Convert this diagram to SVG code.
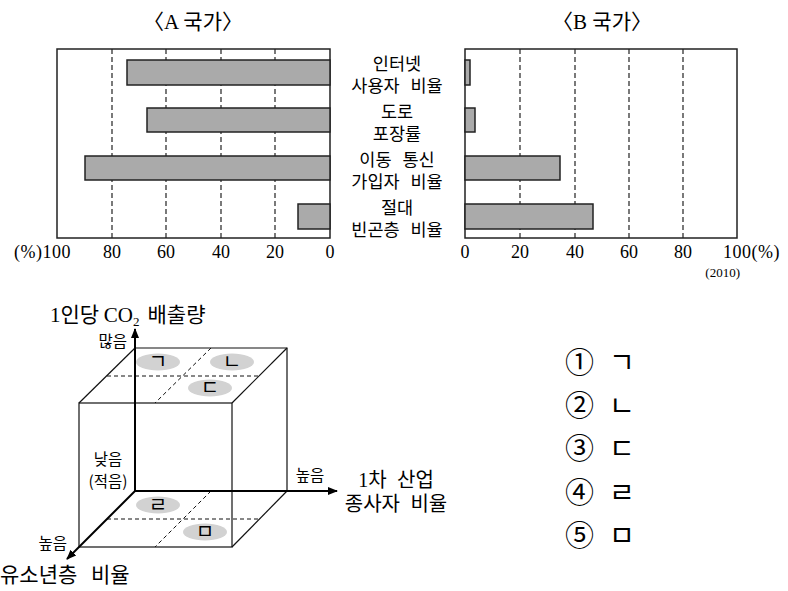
<svg xmlns="http://www.w3.org/2000/svg" width="788" height="591" viewBox="0 0 788 591">
<defs>
<style>
.kr{font-family:"Noto Sans CJK KR",sans-serif;fill:#000}
.num{font-family:"Liberation Serif","Noto Sans CJK KR",serif;fill:#000}
.frame{fill:#fff;stroke:#222;stroke-width:1.5}
.grid{stroke:#222;stroke-width:1.2;stroke-dasharray:5 3;fill:none}
.bar{fill:#aaa;stroke:#222;stroke-width:1.5}
.edge{stroke:#111;stroke-width:1.2;fill:none}
.dash{stroke:#111;stroke-width:1;stroke-dasharray:4 3;fill:none}
.axis{stroke:#000;stroke-width:2;fill:none}
.oval{fill:#d2d2d2}
</style>
<marker id="arr" viewBox="0 0 10 10" refX="9" refY="5" markerWidth="5" markerHeight="5" orient="auto" markerUnits="strokeWidth">
<path d="M0,1 L10,5 L0,9 z" fill="#000"/>
</marker>
</defs>
<rect width="788" height="591" fill="#fff"/>

<!-- Chart A -->
<g id="chartA">
<text class="num" x="193" y="29" font-size="21" text-anchor="middle">〈A <tspan class="kr">국가</tspan>〉</text>
<rect class="frame" x="57" y="49" width="273" height="189"/>
<line class="grid" x1="112" y1="49" x2="112" y2="238"/>
<line class="grid" x1="166" y1="49" x2="166" y2="238"/>
<line class="grid" x1="221" y1="49" x2="221" y2="238"/>
<line class="grid" x1="275" y1="49" x2="275" y2="238"/>
<rect class="bar" x="127" y="60" width="203" height="25"/>
<rect class="bar" x="147" y="108" width="183" height="24"/>
<rect class="bar" x="85" y="156" width="245" height="24"/>
<rect class="bar" x="298" y="204" width="32" height="25"/>
<g class="num" font-size="18" text-anchor="middle">
<text x="71" y="258" text-anchor="end" letter-spacing="0.5">(%)100</text>
<text x="112" y="258">80</text>
<text x="166" y="258">60</text>
<text x="221" y="258">40</text>
<text x="275" y="258">20</text>
<text x="330" y="258">0</text>
</g>
</g>

<!-- Labels between charts -->
<g id="labels" class="kr" font-size="17.5" text-anchor="middle" word-spacing="7">
<text x="397" y="70">인터넷</text>
<text x="397" y="92">사용자 비율</text>
<text x="397" y="118">도로</text>
<text x="397" y="140">포장률</text>
<text x="397" y="166">이동 통신</text>
<text x="397" y="188">가입자 비율</text>
<text x="397" y="214">절대</text>
<text x="397" y="236">빈곤층 비율</text>
</g>

<!-- Chart B -->
<g id="chartB">
<text class="num" x="602" y="29" font-size="21" text-anchor="middle">〈B <tspan class="kr">국가</tspan>〉</text>
<rect class="frame" x="465" y="49" width="272" height="189"/>
<line class="grid" x1="520" y1="49" x2="520" y2="238"/>
<line class="grid" x1="575" y1="49" x2="575" y2="238"/>
<line class="grid" x1="629" y1="49" x2="629" y2="238"/>
<line class="grid" x1="683" y1="49" x2="683" y2="238"/>
<rect class="bar" x="465" y="60" width="5" height="25"/>
<rect class="bar" x="465" y="108" width="10" height="24"/>
<rect class="bar" x="465" y="156" width="95" height="24"/>
<rect class="bar" x="465" y="204" width="128" height="25"/>
<g class="num" font-size="18" text-anchor="middle">
<text x="465" y="258">0</text>
<text x="520" y="258">20</text>
<text x="575" y="258">40</text>
<text x="629" y="258">60</text>
<text x="683" y="258">80</text>
<text x="723" y="258" text-anchor="start" letter-spacing="0.5">100(%)</text>
</g>
<text class="num" x="740" y="277" font-size="13" text-anchor="end">(2010)</text>
</g>

<!-- Cube diagram -->
<g id="cube">
<polyline class="edge" points="135,348 287,348 287,491"/>
<rect class="edge" x="79" y="403" width="153" height="144"/>
<line class="edge" x1="79" y1="403" x2="135" y2="348"/>
<line class="edge" x1="232" y1="403" x2="287" y2="348"/>
<line class="edge" x1="232" y1="547" x2="287" y2="491"/>
<line class="dash" x1="107" y1="376" x2="260" y2="376"/>
<line class="dash" x1="211" y1="348" x2="155" y2="403"/>
<line class="dash" x1="107" y1="519" x2="260" y2="519"/>
<line class="dash" x1="211" y1="491" x2="155" y2="547"/>
</g>

<g id="axes">
<line class="axis" x1="135" y1="491" x2="135" y2="329" marker-end="url(#arr)"/>
<line class="axis" x1="135" y1="491" x2="337" y2="491" marker-end="url(#arr)"/>
<line class="axis" x1="135" y1="491" x2="67" y2="559" marker-end="url(#arr)"/>
</g>

<g id="regions" class="kr" font-size="20" text-anchor="middle">
<g id="r1"><ellipse class="oval" cx="158" cy="362" rx="22" ry="8.5"/><text x="158" y="369">ㄱ</text></g>
<g id="r2"><ellipse class="oval" cx="232" cy="362" rx="22" ry="8.5"/><text x="232" y="369">ㄴ</text></g>
<g id="r3"><ellipse class="oval" cx="210" cy="388" rx="22" ry="8.5"/><text x="210" y="395">ㄷ</text></g>
<g id="r4"><ellipse class="oval" cx="158" cy="505" rx="22" ry="8.5"/><text x="158" y="512">ㄹ</text></g>
<g id="r5"><ellipse class="oval" cx="205" cy="532" rx="22" ry="8.5"/><text x="205" y="539">ㅁ</text></g>
</g>

<g id="axisLabels">
<text class="kr" x="50" y="322" font-size="21"><tspan class="num">1</tspan>인당 <tspan class="num">CO</tspan><tspan class="num" font-size="13" dy="4">2</tspan><tspan dy="-4" dx="8">배출량</tspan></text>
<text class="kr" x="127" y="347" font-size="15.5" text-anchor="end">많음</text>
<text class="kr" x="108" y="465" font-size="15.5" text-anchor="middle">낮음</text>
<text class="kr" x="108" y="487" font-size="15.5" text-anchor="middle">(적음)</text>
<text class="kr" x="310" y="481" font-size="15.5" text-anchor="middle">높음</text>
<text class="kr" x="67" y="549" font-size="15.5" text-anchor="end">높음</text>
<text class="kr" x="0" y="582" font-size="21" word-spacing="9">유소년층 비율</text>
<text class="kr" x="396" y="487" font-size="20" text-anchor="middle" word-spacing="6"><tspan class="num">1</tspan>차 산업</text>
<text class="kr" x="396" y="511" font-size="20" text-anchor="middle" word-spacing="6">종사자 비율</text>
</g>

<g id="options" class="kr">
<g font-size="29"><text x="565" y="373">①</text><text x="565" y="416">②</text><text x="565" y="459">③</text><text x="565" y="503">④</text><text x="565" y="546">⑤</text></g>
<g font-size="28"><text x="609" y="373">ㄱ</text><text x="609" y="416">ㄴ</text><text x="609" y="459">ㄷ</text><text x="609" y="503">ㄹ</text><text x="609" y="546">ㅁ</text></g>
</g>
</svg>
